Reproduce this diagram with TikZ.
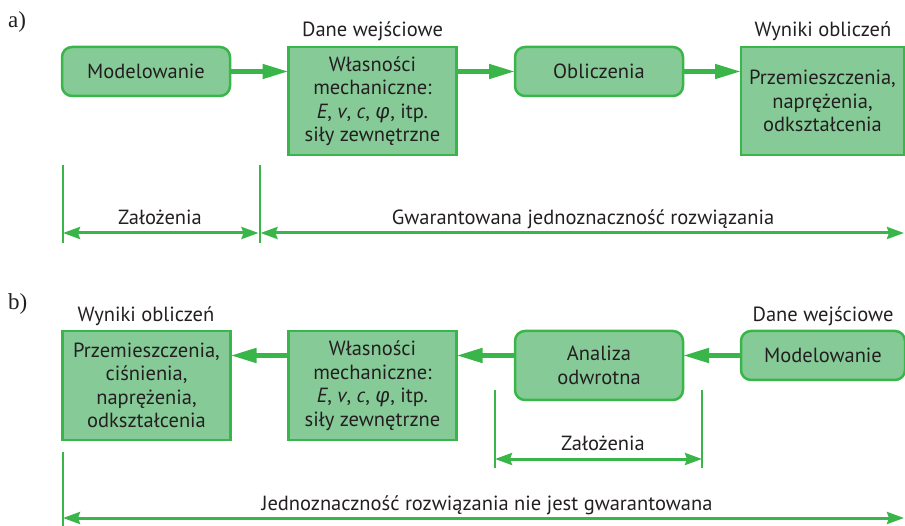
\documentclass[tikz,border=0pt]{standalone}
\usepackage{fontspec}
\setmainfont{PT Sans}
\newfontfamily\grk{Fira Sans}
\newfontfamily\labfont{Liberation Serif}
\usetikzlibrary{arrows.meta}
\definecolor{gfill}{RGB}{134,203,151}
\definecolor{gline}{RGB}{57,181,74}
\definecolor{txt}{RGB}{35,31,32}
\begin{document}
\begin{tikzpicture}[x=1pt,y=-1pt,
 box/.style={draw=gline, fill=gfill, line width=2.5pt, text=txt, align=center,
   font=\fontsize{20.5}{23.5}\selectfont, inner sep=0pt, outer sep=0pt, minimum width=168pt},
 rbox/.style={box, rounded corners=10pt},
 flow/.style={draw=gline, line width=4.6pt, -{Triangle[length=26pt,width=14pt]}},
 dim/.style={draw=gline, line width=3pt, {Stealth[length=17pt,width=12pt,inset=2pt]}-{Stealth[length=17pt,width=12pt,inset=2pt]}},
 tickl/.style={draw=gline, line width=2pt},
 lab/.style={text=txt, font=\fontsize{20.5}{24}\selectfont, inner sep=0pt, anchor=base},
 part/.style={text=txt, font=\labfont\fontsize{23}{26}\selectfont, inner sep=0pt, anchor=base west},
]
\useasboundingbox (0,0) rectangle (905,526);

% ---------- part a ----------
\node[part] (pa) at (8,28) {a)};
\node[rbox, minimum height=49pt] (mod) at (146,71.5) {Modelowanie};
\node[box, minimum height=108pt] (wl) at (372.5,101) {Własności\\mechaniczne:\\{\itshape E}, {\itshape v}, {\itshape c}, {\grk\itshape φ}, itp.\\siły zewnętrzne};
\node[rbox, minimum height=49pt] (obl) at (599,71.5) {Obliczenia};
\node[box, minimum height=108pt, minimum width=163pt] (wyn) at (822.5,101) {Przemieszczenia,\\naprężenia,\\odkształcenia};
\node[lab] (dwa) at (372.5,36.5) {Dane wejściowe};
\node[lab] (woa) at (823,36.5) {Wyniki obliczeń};

\draw[flow] (mod.east) -- (wl.west |- mod.east);
\draw[flow] (wl.east |- obl.west) -- (obl.west);
\draw[flow] (obl.east) -- (wyn.west |- obl.east);

\coordinate (a1t) at (63,165); \coordinate (a1b) at (63,243);
\coordinate (a2t) at (259.5,165); \coordinate (a2b) at (259.5,243);
\coordinate (aend) at (904,233);
\draw[tickl] (a1t) -- (a1b);
\draw[tickl] (a2t) -- (a2b);
\draw[dim] (a1b |- aend) -- ([xshift=-1pt]a2b |- aend);
\draw[dim] ([xshift=1pt]a2b |- aend) -- (aend);
\node[lab] (za) at (160,225) {Założenia};
\node[lab] (gj) at (583,225) {Gwarantowana jednoznaczność rozwiązania};

% ---------- part b ----------
\node[part] (pb) at (8,310) {b)};
\node[box, minimum height=109pt] (wynb) at (146.5,385.5) {Przemieszczenia,\\ciśnienia,\\naprężenia,\\odkształcenia};
\node[box, minimum height=109pt] (wlb) at (372.5,385.5) {Własności\\mechaniczne:\\{\itshape E}, {\itshape v}, {\itshape c}, {\grk\itshape φ}, itp.\\siły zewnętrzne};
\node[rbox, minimum height=69pt] (ana) at (599,365.5) {Analiza\\odwrotna};
\node[rbox, minimum height=49pt, minimum width=164pt] (modb) at (823,355.5) {Modelowanie};
\node[lab] (wob) at (146,322) {Wyniki obliczeń};
\node[lab] (dwb) at (823,322) {Dane wejściowe};

\draw[flow] (modb.west) -- (ana.east |- modb.west);
\draw[flow] (ana.west |- modb.west) -- (wlb.east |- modb.west);
\draw[flow] (wlb.west |- modb.west) -- (wynb.east |- modb.west);

\coordinate (b1t) at (495,390); \coordinate (b1b) at (495,468);
\coordinate (b2t) at (702,390); \coordinate (b2b) at (702,468);
\coordinate (bl) at (495,459); \coordinate (br) at (702,459);
\draw[tickl] (b1t) -- (b1b);
\draw[tickl] (b2t) -- (b2b);
\draw[dim] (bl) -- (br);
\node[lab] (zb) at (603,450) {Założenia};

\coordinate (c1t) at (63,452); \coordinate (c1b) at (63,526);
\coordinate (cl) at (63,518); \coordinate (cr) at (904,518);
\draw[tickl] (c1t) -- (c1b);
\draw[dim] (cl) -- (cr);
\node[lab] (jr) at (487,510) {Jednoznaczność rozwiązania nie jest gwarantowana};
\end{tikzpicture}
\end{document}
